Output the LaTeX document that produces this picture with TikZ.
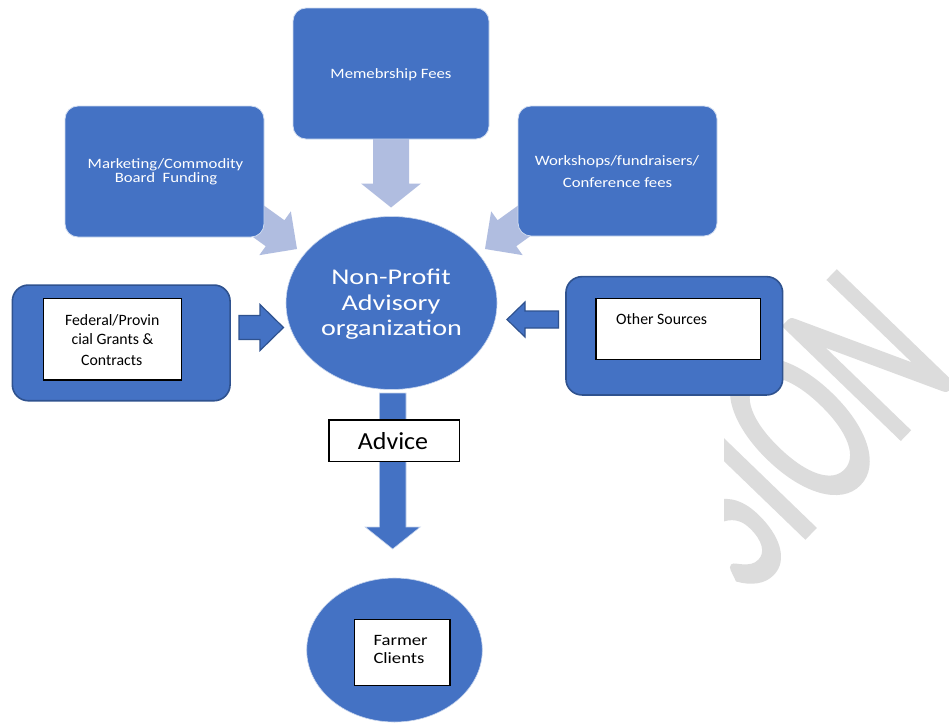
\documentclass[tikz,border=0pt]{standalone}
\usepackage{fontspec}
\setmainfont{Carlito}
\newfontfamily\fontblue[FakeStretch=1.17]{Carlito}
\newfontfamily\fontcirc[FakeStretch=1.25]{Carlito}
\newfontfamily\fontadv[FakeStretch=1.06]{Carlito}
\newfontfamily\fontfarm[FakeStretch=1.18]{Carlito}
\newfontfamily\fontwm[FakeStretch=0.6,FakeBold=1.2]{Carlito}
\usetikzlibrary{shapes.geometric,calc}
\definecolor{ablue}{HTML}{4472C4}
\definecolor{dblue}{HTML}{2F528F}
\definecolor{lblue}{HTML}{B0BDE0}
\definecolor{wmgray}{HTML}{DCDCDC}
\tikzset{
 topbox/.style={draw=white!75!ablue, line width=0.8pt, fill=ablue, rounded corners=13pt, inner sep=0pt},
 framebox/.style={draw=dblue, line width=1.6pt, fill=ablue, rounded corners=16pt, inner sep=0pt},
 whitebox/.style={draw=black, line width=1.2pt, fill=white, inner sep=0pt},
 oval/.style={ellipse, fill=ablue, draw=white!70!ablue, line width=0.6pt, inner sep=0pt},
 lbl/.style={inner sep=0pt, anchor=base},
 wtxt/.style={lbl, text=white, font=\fontblue\fontsize{14.3}{14.3}\selectfont},
 ctxt/.style={lbl, text=white, font=\fontcirc\fontsize{22.5}{22.5}\selectfont},
 ktxt/.style={lbl, text=black, font=\fontsize{15.8}{15.8}\selectfont},
 ftxt/.style={lbl, anchor=base west, text=black, font=\fontfarm\fontsize{15.8}{15.8}\selectfont},
 lightarrow/.style={fill=lblue},
 bluearrow/.style={fill=ablue, draw=dblue, line width=1.2pt, line join=miter},
 downarrow/.style={fill=ablue, draw=white!70!ablue, line width=0.6pt, line join=miter},
}
% block arrow: style, from, to, shaft half width, head half width, head length
\newcommand\blockarrow[6]{%
  \coordinate (bahead) at ($(#3)!#6pt!(#2)$);
  \path[#1] ($(#2)!#4pt!90:(#3)$) -- ($(bahead)!#4pt!90:(#3)$) -- ($(bahead)!#5pt!90:(#3)$)
    -- (#3) -- ($(bahead)!#5pt!-90:(#3)$) -- ($(bahead)!#4pt!-90:(#3)$) -- ($(#2)!#4pt!-90:(#3)$) -- cycle;}
\begin{document}
\begin{tikzpicture}[x=1pt,y=-1pt]
\useasboundingbox[fill=white] (0,0) rectangle (949,723);
% watermark
\begin{scope}
 \clip (724,0) rectangle (949,723);
 \begin{scope}[shift={(748.2,596.8)}, rotate=46]
  \node[inner sep=0pt, anchor=base west, transform shape, text=wmgray,
        font=\fontwm\fontsize{253}{253}\selectfont] (wm) at (0,0) {SION};
 \end{scope}
\end{scope}
% light arrows (behind boxes)
\coordinate (tT1) at (391,138);   \coordinate (tT2) at (391,207.5);
\coordinate (tL1) at (240,208);   \coordinate (tL2) at (297,249);
\coordinate (tR1) at (542,208);   \coordinate (tR2) at (485,249);
\blockarrow{lightarrow}{tT1}{tT2}{18}{30}{24}
\blockarrow{lightarrow}{tL1}{tL2}{16}{27}{27}
\blockarrow{lightarrow}{tR1}{tR2}{16}{27}{27}
% top boxes and centre
\node[topbox, minimum width=196pt, minimum height=131pt] (memb) at (391,73.5) {};
\node[topbox, minimum width=199pt, minimum height=131pt] (mkt) at (164.5,171.5) {};
\node[topbox, minimum width=199pt, minimum height=130pt] (wks) at (617.5,171) {};
\node[oval, minimum width=211pt, minimum height=173pt] (org) at (391.5,303) {};
% side boxes
\node[framebox, minimum width=217.7pt, minimum height=115.7pt] (fedout) at (121.2,342.9) {};
\node[whitebox, minimum width=138.4pt, minimum height=81.7pt] (fedin) at (112.5,339.2) {};
\node[framebox, minimum width=216.7pt, minimum height=118.3pt] (othout) at (674.3,335.8) {};
\node[whitebox, minimum width=164.7pt, minimum height=61pt] (othin) at (678.3,328.8) {};
% blue arrows
\coordinate (aF1) at (239,327.5); \coordinate (aF2) at (283.5,327.5);
\coordinate (aO1) at (558.5,319.5); \coordinate (aO2) at (507,319.5);
\coordinate (aD1) at (392.7,393); \coordinate (aD2) at (392.7,549);
\blockarrow{bluearrow}{aF1}{aF2}{12}{23}{23.5}
\blockarrow{bluearrow}{aO1}{aO2}{8.5}{17.5}{18}
\blockarrow{downarrow}{aD1}{aD2}{13.3}{27.5}{22}
% advice and farmer
\node[whitebox, minimum width=130.3pt, minimum height=41.7pt] (adv) at (394.2,440.8) {};
\node[oval, minimum width=175.6pt, minimum height=144pt] (farm) at (394.5,650) {};
\node[whitebox, minimum width=95.7pt, minimum height=66.4pt] (farmin) at (402.2,652.5) {};
% texts
\node[wtxt] (t1) at (391,78) {Memebrship Fees};
\node[wtxt] (t2) at (165.5,168) {Marketing/Commodity};
\node[wtxt] (t3) at (166,182) {Board\ \ Funding};
\node[wtxt] (t4) at (617,165) {Workshops/fundraisers/};
\node[wtxt] (t5) at (617.5,187) {Conference fees};
\node[ctxt] (c1) at (391,284) {Non-Profit};
\node[ctxt] (c2) at (391,310) {Advisory};
\node[ctxt] (c3) at (391.5,335) {organization};
\node[ktxt] (k1) at (112.2,325) {Federal/Provin};
\node[ktxt] (k2) at (112.5,344) {cial Grants \&};
\node[ktxt] (k3) at (111.8,365) {Contracts};
\node[ktxt, anchor=base west] (k4) at (616,324.3) {Other Sources};
\node[lbl, font=\fontadv\fontsize{24.5}{24.5}\selectfont] (a1) at (393,449) {Advice};
\node[ftxt] (f1) at (373.3,645) {Farmer};
\node[ftxt] (f2) at (373.3,663.3) {Clients};
\end{tikzpicture}
\end{document}
